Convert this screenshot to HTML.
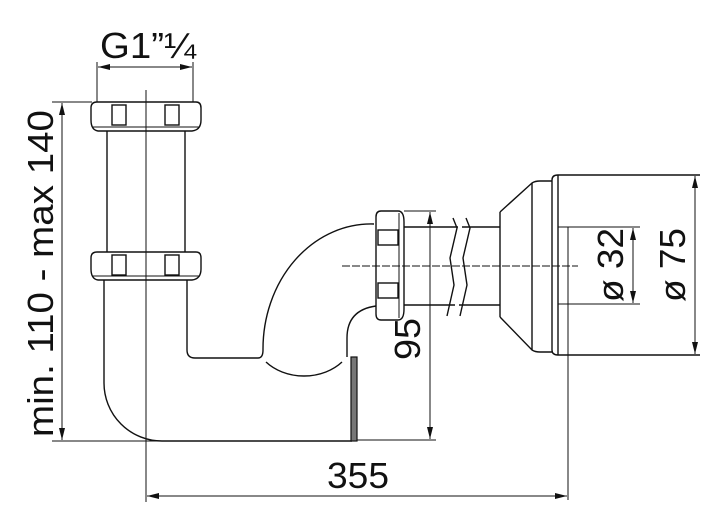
<!DOCTYPE html>
<html><head><meta charset="utf-8"><style>
html,body{margin:0;padding:0;background:#fff;}
svg{display:block;}
text{font-family:"Liberation Sans",sans-serif;fill:#111;}
</style></head><body>
<svg width="720" height="524" viewBox="0 0 720 524" xmlns="http://www.w3.org/2000/svg">
<defs>
<marker id="a" viewBox="0 0 12 6" refX="12" refY="3" markerWidth="12" markerHeight="6" orient="auto-start-reverse" markerUnits="userSpaceOnUse"><path d="M0,0 L12,3 L0,6 z" fill="#111"/></marker>
</defs>
<g fill="none" stroke="#111" stroke-width="1.4">
<line x1="97" y1="62" x2="97" y2="102" stroke-width="1"/>
<line x1="193" y1="62" x2="193" y2="102" stroke-width="1"/>
<line x1="98" y1="67" x2="192" y2="67" stroke-width="1" marker-start="url(#a)" marker-end="url(#a)"/>
<line x1="52" y1="102" x2="92" y2="102" stroke-width="1"/>
<line x1="62" y1="103" x2="62" y2="440" stroke-width="1" marker-start="url(#a)" marker-end="url(#a)"/>
<line x1="146" y1="90" x2="146" y2="502" stroke-width="1"/>
<path d="M97,102 H196 Q201,102 201,108 V120 Q201,130 192,131 H98 Q91,130 91,120 V108 Q91,102 97,102 Z"/>
<line x1="92" y1="127" x2="200" y2="127" stroke-width="1"/>
<rect x="112" y="105" width="14" height="20"/>
<rect x="165" y="105" width="14" height="20"/>
<line x1="107" y1="131" x2="107" y2="252"/>
<line x1="185" y1="131" x2="185" y2="252"/>
<path d="M97,252 H196 Q201,252 201,258 V269 Q201,279 192,280 H98 Q91,279 91,269 V258 Q91,252 97,252 Z"/>
<line x1="92" y1="276" x2="200" y2="276" stroke-width="1"/>
<rect x="112" y="255" width="14" height="20"/>
<rect x="165" y="255" width="14" height="20"/>
<path d="M104,280 V383 A58,58 0 0 0 162,441 H352"/>
<line x1="52" y1="441" x2="352" y2="441" stroke-width="1"/>
<path d="M187,280 V350 Q187,358 195,358 H258 Q263,358 263,350 A108,125 0 0 1 374,224"/>
<path d="M266,362 A50,40 0 0 0 342,362"/>
<path d="M347,357 V338 Q347,310 376,306"/>
<rect x="351" y="357" width="6" height="84" fill="#777" stroke-width="1.2"/>
<line x1="357" y1="440" x2="436" y2="440" stroke-width="1"/>
<path d="M381,211 H398 Q404,211 404,222 V309 Q404,320 398,320 H381 Q376,320 376,314 V217 Q376,211 381,211 Z"/>
<line x1="399" y1="213" x2="399" y2="318" stroke-width="1"/>
<rect x="378" y="230" width="20" height="15"/>
<rect x="378" y="283" width="20" height="15"/>
<line x1="404" y1="211" x2="436" y2="211" stroke-width="1"/>
<line x1="430" y1="212" x2="430" y2="439" stroke-width="1" marker-start="url(#a)" marker-end="url(#a)"/>
<line x1="404" y1="227" x2="500" y2="227"/>
<line x1="404" y1="305" x2="500" y2="305"/>
<path d="M453,218 L457,228 L450,258 L454,285 L447,316"/>
<path d="M466,218 L470,228 L463,258 L467,285 L460,316"/>
<line x1="458" y1="227" x2="462" y2="227" stroke="#fff" stroke-width="3"/>
<line x1="455" y1="305" x2="459" y2="305" stroke="#fff" stroke-width="3"/>
<line x1="342" y1="266" x2="578" y2="266" stroke-width="1" stroke-dasharray="8,2"/>
<path d="M500,212 L532,183 Q535,181 540,181 H552"/>
<path d="M500,317 L532,350 Q535,352 540,352 H552"/>
<line x1="500" y1="212" x2="500" y2="317"/>
<line x1="532" y1="183" x2="532" y2="350"/>
<path d="M552,180 Q552,175 558,175 H700"/>
<path d="M552,350 Q552,355 558,355 H700"/>
<line x1="552" y1="180" x2="552" y2="350"/>
<line x1="558" y1="175" x2="558" y2="355"/>
<line x1="558" y1="227" x2="640" y2="227" stroke-width="1"/>
<line x1="558" y1="304" x2="640" y2="304" stroke-width="1"/>
<line x1="568" y1="227" x2="568" y2="500" stroke-width="1"/>
<line x1="633" y1="228" x2="633" y2="303" stroke-width="1" marker-start="url(#a)" marker-end="url(#a)"/>
<line x1="695" y1="176" x2="695" y2="354" stroke-width="1" marker-start="url(#a)" marker-end="url(#a)"/>
<line x1="147" y1="496" x2="567" y2="496" stroke-width="1" marker-start="url(#a)" marker-end="url(#a)"/>
</g>
<text x="100" y="58" font-size="36" textLength="96" lengthAdjust="spacingAndGlyphs">G1”¼</text>
<text transform="translate(53,437) rotate(-90)" font-size="36" textLength="327" lengthAdjust="spacingAndGlyphs">min. 110 - max 140</text>
<text transform="translate(420,360) rotate(-90)" font-size="36" textLength="42" lengthAdjust="spacingAndGlyphs">95</text>
<text x="327" y="488" font-size="36" textLength="62" lengthAdjust="spacingAndGlyphs">355</text>
<text transform="translate(623,302) rotate(-90)" font-size="36" textLength="74" lengthAdjust="spacingAndGlyphs">ø 32</text>
<text transform="translate(685,302) rotate(-90)" font-size="36" textLength="74" lengthAdjust="spacingAndGlyphs">ø 75</text>
</svg>
</body></html>
